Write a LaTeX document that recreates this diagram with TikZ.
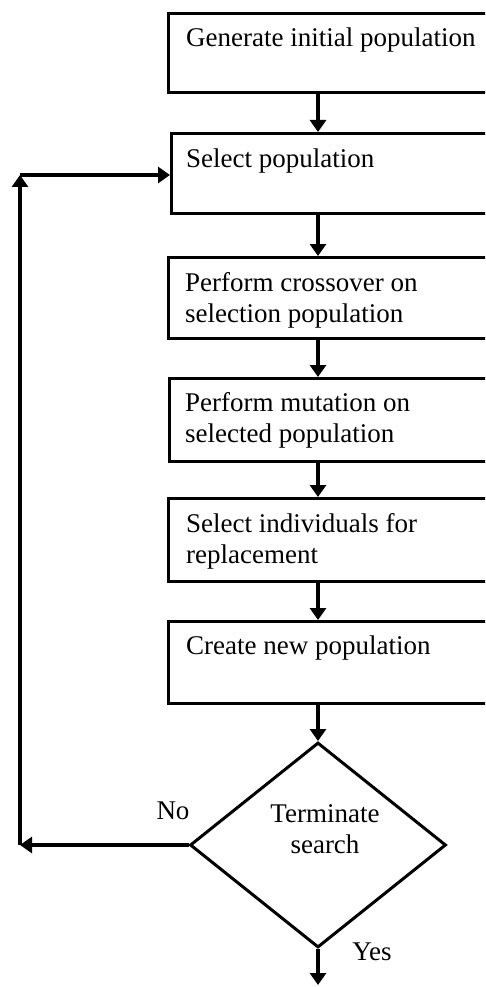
\documentclass[tikz,border=0pt]{standalone}
\usepackage{fontspec}
\setmainfont{Liberation Serif}
\usetikzlibrary{shapes.geometric,arrows.meta}

\tikzset{
  box/.style={draw, line width=3.4pt, rectangle, anchor=north west,
              minimum width=340pt, inner sep=0pt},
  lbl/.style={font=\fontsize{27}{31}\selectfont, align=left,
              inner sep=0pt, anchor=north west},
  tag/.style={font=\fontsize{27}{31}\selectfont, inner sep=0pt},
  flow/.style={line width=3.4pt,
               -{Triangle[length=12pt,width=16pt]}},
  decision/.style={draw, diamond, line width=3pt, inner sep=0pt,
                   minimum width=256pt, minimum height=205pt}
}

\begin{document}
\begin{tikzpicture}[x=1pt,y=-1pt]
  \useasboundingbox (0,0) rectangle (485,987);
  \clip (0,0) rectangle (485,987);

  % process boxes (they run on past the right edge)
  \node[box, minimum height=79pt] (b1) at (167,12)  {};
  \node[box, minimum height=80pt] (b2) at (170,132) {};
  \node[box, minimum height=81pt] (b3) at (167,256) {};
  \node[box, minimum height=83pt] (b4) at (168,377) {};
  \node[box, minimum height=83pt] (b5) at (167,497) {};
  \node[box, minimum height=82pt] (b6) at (167,620) {};

  % box texts
  \node[lbl] (t1) at (186,28)  {Generate initial population};
  \node[lbl] (t2) at (186,149) {Select population};
  \node[lbl] (t3) at (185,272) {Perform crossover on\\selection population};
  \node[lbl] (t4) at (185,392) {Perform mutation on\\selected population};
  \node[lbl] (t5) at (186,513) {Select individuals for\\replacement};
  \node[lbl] (t6) at (186,636) {Create new population};

  % decision
  \node[decision] (d) at (318,845) {};
  \node[tag, align=center] (dt) at (325,829) {Terminate\\search};

  % the vertical spine of the main flow and the loop corners
  \coordinate (spine) at (318,0);
  \coordinate (out) at (318,985);
  \coordinate (c1) at (20,845);
  \coordinate (c2) at (20,175);

  % main flow
  \draw[flow] (b1.south -| spine) -- (b2.north -| spine);
  \draw[flow] (b2.south -| spine) -- (b3.north -| spine);
  \draw[flow] (b3.south -| spine) -- (b4.north -| spine);
  \draw[flow] (b4.south -| spine) -- (b5.north -| spine);
  \draw[flow] (b5.south -| spine) -- (b6.north -| spine);
  \draw[flow] (b6.south -| spine) -- (d.north);
  \draw[flow] (d.south) -- (out);

  % loop back to the selection step
  \draw[flow] (d.west) -- (c1);
  \draw[flow] (c1) -- (c2);
  \draw[flow] (c2) -- (c2 -| b2.west);

  % branch labels
  \node[tag] (no)  at (173,811) {No};
  \node[tag] (yes) at (372,952) {Yes};
\end{tikzpicture}
\end{document}
